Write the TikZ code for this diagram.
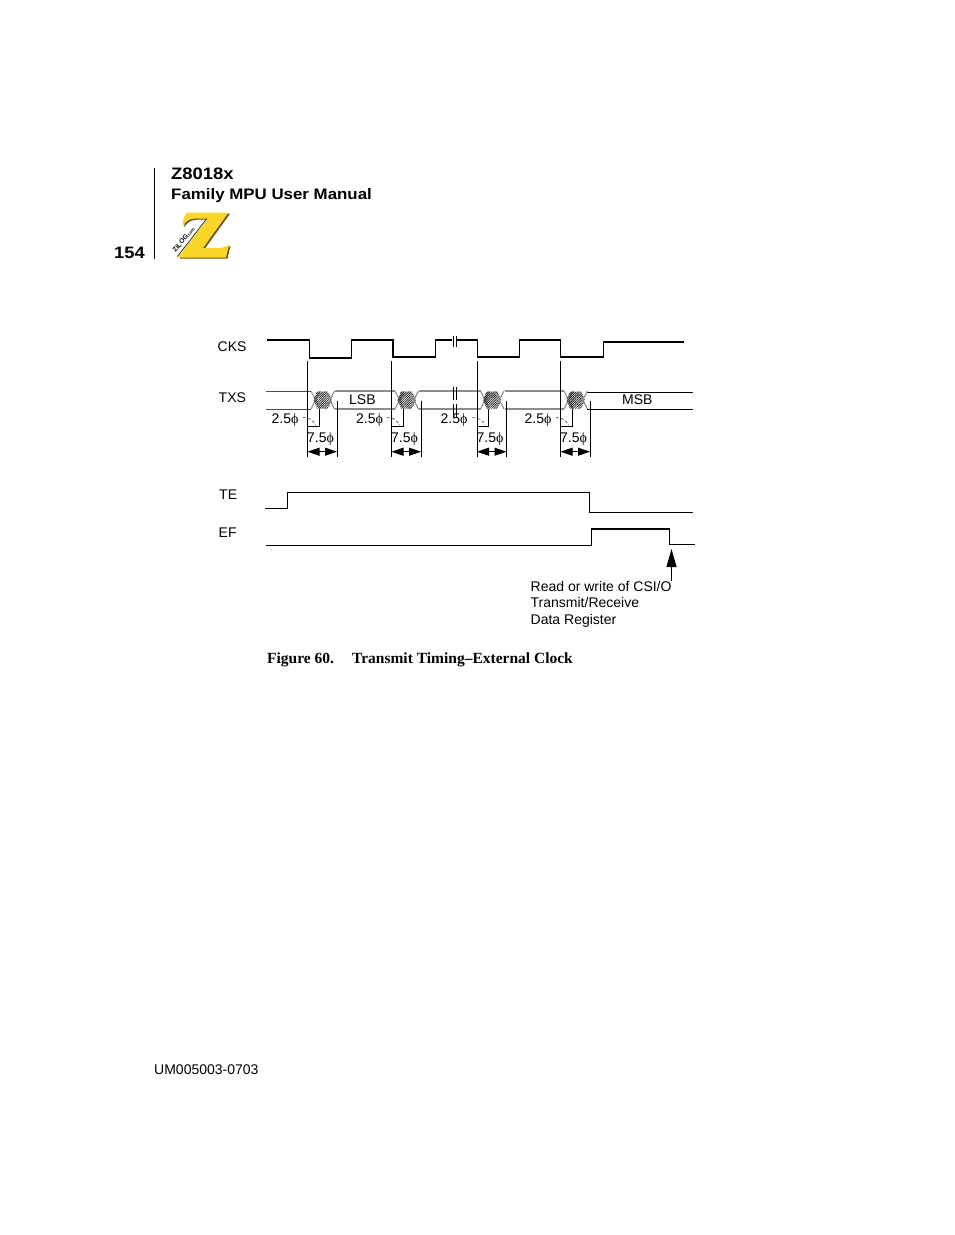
\documentclass[tikz,border=0pt]{standalone}
\usepackage{fontspec}
\setmainfont{Liberation Sans}
\newfontfamily\serifb{Liberation Serif}
\newfontfamily\headf[FakeStretch=1.11]{Liberation Sans}
\usetikzlibrary{arrows.meta,patterns.meta}
\definecolor{zy}{RGB}{250,214,40}
\definecolor{zd}{RGB}{110,85,20}
\tikzset{
 sig/.style={line width=1.05pt,black,line join=miter},
 grayl/.style={line width=1.1pt,black!45},
 lab/.style={anchor=base west,inner sep=0pt,font=\fontsize{14}{16}\selectfont},
 head/.style={anchor=base west,inner sep=0pt,font=\headf\bfseries\fontsize{16}{18}\selectfont},
 tick/.style={line width=1pt,black},
 dim/.style={line width=1pt,black,{Triangle[length=12pt,width=8pt]}-{Triangle[length=12pt,width=8pt]}},
 leader/.style={line width=.6pt,black!75,densely dashed}
}
\newcommand{\phisym}{{\serifb\fontsize{14}{14}\selectfont ϕ}}
\newcommand{\zpath}{(187,212.5) -- (228.5,212.5) -- (203,248) -- (218,248) .. controls (223,248) and (226,247) .. (229,244.5) -- (226,257.5) -- (178,257.5) -- (208,218.5) -- (195,218.5) .. controls (188,219) and (185,222) .. (183,226) .. controls (182,221) and (184,216) .. cycle}
\begin{document}
\begin{tikzpicture}[x=1pt,y=-1pt]
\useasboundingbox (0,0) rectangle (954,1235);
\fill[white] (0,0) rectangle (954,1235);
% header
\draw[line width=1.05pt] (154.5,168) -- (154.5,259);
\node[head,font=\headf\bfseries\fontsize{16.6}{18}\selectfont] (title1) at (171,179) {Z8018x};
\node[head,font=\headf\bfseries\fontsize{15.2}{18}\selectfont] (title2) at (171,199) {Family MPU User Manual};
\node[head,font=\headf\bfseries\fontsize{16.5}{18}\selectfont] (pg) at (114,258) {154};
% logo
\fill[zd,xshift=1.5pt,yshift=-1.2pt] \zpath;
\fill[zy] \zpath;
\draw[line width=.8pt,black!80] (206.5,219) -- (177.5,256.5);
\node[rotate=50,inner sep=0pt,font=\bfseries\fontsize{6.6}{8}\selectfont] (zilog) at (183.5,239.5) {ZiLOG\fontsize{4.2}{5}\selectfont .com};
% CKS
\node[lab] (cks) at (217.5,351) {CKS};
\draw[sig] (267,340) -| (309.5,358) -| (351.5,340) -| (393,357) -| (435.5,340) -- (452,340);
\draw[sig] (457,340) -| (477.5,357) -| (519.5,340) -| (560.5,357) -| (603.5,342) -- (684,342);
\draw[line width=1.1pt] (453.5,336) -- (453.5,347) (456.5,336) -- (456.5,347);
% TXS
\node[lab] (txs) at (218.5,402) {TXS};
\foreach \s/\e in {335/395,419/480.5,504.5/564}{
 \draw[grayl] (\s,391) -- (\e,391) (\s,409) -- (\e,409);
}
\draw[line width=1pt,black!70] (266,391) -- (311,391) (266,409) -- (311,409);
\draw[sig] (587,392.5) -- (693,392.5) (587,409.5) -- (693,409.5);
\foreach \x in {0,84,169.5,253}{
 \begin{scope}[xshift=\x pt]
 \draw[grayl] (311,391) -- (320,409) (311,409) -- (320,391);
 \fill[pattern={Lines[angle=45,distance=1.6pt,line width=.8pt]},pattern color=black!90]
   (317,391.5) -- (328,391.5) -- (332,400) -- (328,408.5) -- (317,408.5) -- (313.5,400) -- cycle;
 \draw[grayl] (325,409) -- (334.5,391) (325,391) -- (334.5,409);
 \draw[tick] (307.5,361) -- (307.5,457);
 \draw[tick] (337,401) -- (337,457);
 \draw[tick] (319.3,409) -- (319.3,426) -- (307.5,426);
 \draw[dim] (307.5,451.7) -- (337,451.7);
 \node[lab] at (307,442.5) {7.5\phisym};
 \draw[leader] (303,417.5) .. controls (309,417.5) and (313,420) .. (315.5,425);
 \end{scope}
}
\foreach \x in {0,84.5,169,253}{
 \node[lab] at (271.5+\x,423) {2.5\phisym};
}
\draw[line width=1.1pt] (453.5,387) -- (453.5,400) (456.5,387) -- (456.5,400) (453.5,404) -- (453.5,417) (456.5,404) -- (456.5,417);
\node[lab] (lsb) at (349,404) {LSB};
\node[lab] (msb) at (622,404) {MSB};
% TE
\node[lab] (te) at (219,499) {TE};
\draw[sig] (265,508.5) -| (287.5,492.5) -| (589.5,512.5) -- (693,512.5);
% EF
\node[lab] (ef) at (218.5,537) {EF};
\draw[sig] (266,545.5) -| (591.5,529) -| (669.5,544.5) -- (695,544.5);
% arrow
\coordinate (ar0) at (671.5,581);
\coordinate (ar1) at (671.5,549);
\draw[line width=1pt,-{Triangle[length=18pt,width=10pt]}] (ar0) -- (ar1);
\node[lab] (n1) at (530.5,591) {Read or write of CSI/O};
\node[lab] (n2) at (530.5,607) {Transmit/Receive};
\node[lab] (n3) at (530.5,624) {Data Register};
% caption
\node[anchor=base west,inner sep=0pt,font=\serifb\bfseries\fontsize{15.5}{16}\selectfont] (cap) at (267,663) {Figure 60.\hspace{18pt}Transmit Timing–External Clock};
% footer
\node[lab] (foot) at (154,1074) {UM005003-0703};
\end{tikzpicture}
\end{document}
